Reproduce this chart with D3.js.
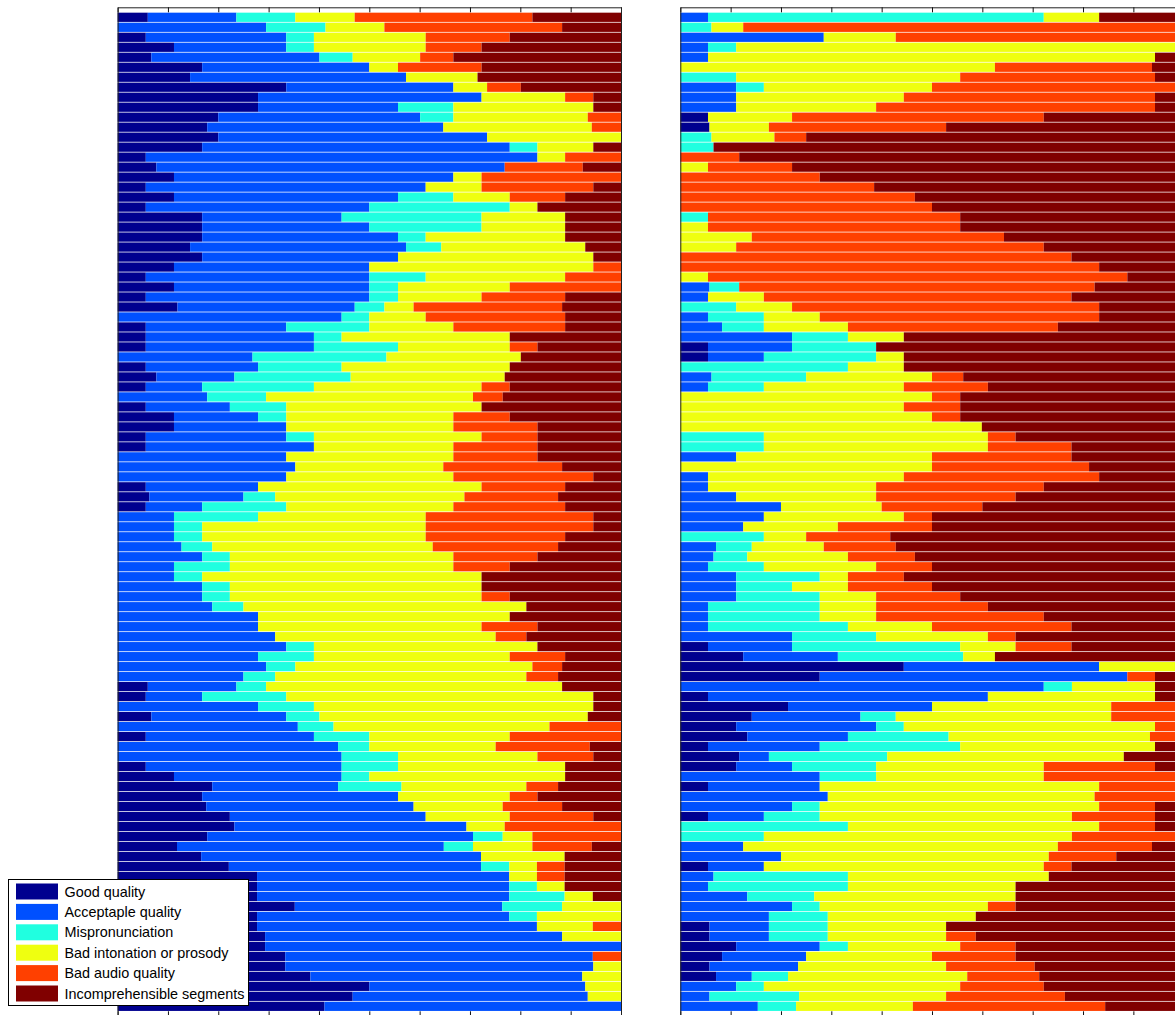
<!DOCTYPE html>
<html>
<head>
<meta charset="utf-8">
<script src="https://cdn.jsdelivr.net/npm/d3@7"></script>
<style>
  html, body { margin: 0; padding: 0; background: #fff; }
  svg { display: block; }
  text { font-family: "Liberation Sans", Arial, Helvetica, sans-serif; }
</style>
</head>
<body>
<svg id="chart" width="1175" height="1015"></svg>
<script>
// ---------------- DATA (percent of ratings per item, top bar first) ----------------
const categories = ["Good quality", "Acceptaple quality", "Mispronunciation",
  "Bad intonation or prosody", "Bad audio quality", "Incomprehensible segments"];
const colors = ["#00008f", "#0050ff", "#20ffe0", "#efff10", "#ff4000", "#800000"];
const xTickValues = [0, 0.1, 0.2, 0.3, 0.4, 0.5, 0.6, 0.7, 0.8, 0.9, 1];

// Left panel
const leftGood = [6.0,0,5.6,11.2,6.7,16.8,14.4,33.5,27.9,27.9, 20.0,17.8,20.0,16.8,5.6,7.7,11.2,5.6,11.2,5.6,
  16.8,16.8,16.8,14.4,16.8,11.2,5.6,11.2,5.6,11.9, 0,5.6,5.6,5.6,0,5.6,7.7,5.6,0,5.6,
  11.2,11.2,5.6,5.6,0,0,0,5.6,6.3,5.6, 0,0,0,0,0,0,0,0,0,0,
  0,0,0,0,0,0,0,6.0,5.6,0, 6.7,0,5.6,0,0,5.6,11.2,18.8,16.8,17.6,
  22.3,23.2,17.8,11.8,16.6,22.1,27.7,27.7,27.7,35.2, 27.7,27.7,29.3,29.3,33.3,33.3,38.3,50.0,46.7,41.1];
const leftAcceptable = [17.6,29.5,27.9,22.3,33.4,33.2,42.9,33.2,44.4,27.8, 40.1,46.9,53.4,61.1,77.8,69.2,55.5,55.6,44.5,44.4,
  27.7,33.2,38.9,42.9,38.9,38.8,44.4,38.8,44.4,35.2, 44.5,27.9,33.4,33.4,26.8,22.3,15.5,11.2,17.8,16.7,
  16.7,22.3,27.9,33.4,33.5,35.3,33.5,22.3,18.7,11.2, 11.2,11.2,11.2,12.7,16.8,11.2,11.2,16.8,16.8,18.8,
  27.9,27.9,31.3,33.5,27.9,29.5,25.0,17.6,11.2,27.9, 26.8,35.8,33.4,43.8,44.5,38.9,33.3,25.0,38.9,41.2,
  38.9,46.1,52.8,53.0,55.6,50.1,50.1,50.1,50.1,41.2, 50.1,55.6,59.0,70.7,61.1,61.2,54.0,42.9,46.7,58.9];
const leftMispron = [11.7,11.8,5.5,5.5,6.6,0,0,0,0,11.0, 6.6,0,0,5.5,0,0,0,0,11.0,27.9,
  27.8,22.3,5.5,7.0,0,0,11.2,5.7,5.7,5.9, 5.5,16.5,5.5,16.7,26.6,16.6,23.1,22.2,11.7,11.2,
  5.6,0,5.5,0,0,0,0,0,6.3,16.7, 16.7,5.6,5.6,6.1,5.5,11.1,5.6,5.5,5.5,6.2,
  0,0,0,5.5,11.1,5.8,6.3,5.9,16.7,11.1, 6.6,7.1,11.0,6.2,11.2,11.2,5.5,12.6,0,0,
  0,0,5.9,5.8,0,5.6,0,5.5,11.0,11.9, 5.5,0,0,0,0,0,0,0,0,0];
const leftIntonation = [11.8,11.7,22.2,22.2,13.4,5.7,14.2,6.7,16.6,27.8, 26.7,29.5,26.6,11.1,5.5,0,5.6,11.1,11.2,5.5,
  16.6,16.6,27.7,28.6,38.8,44.5,27.7,22.2,16.6,5.8, 11.2,16.7,33.4,22.2,26.7,33.4,30.6,33.3,41.1,38.8,
  33.2,33.2,33.3,27.7,33.2,29.4,33.2,44.4,37.6,33.2, 33.3,44.4,44.4,43.8,44.4,44.4,55.5,50.0,50.0,56.2,
  50.0,44.4,43.8,44.4,38.9,47.1,49.9,58.8,61.0,55.5, 53.3,42.9,27.9,25.1,27.7,33.2,38.9,24.8,22.2,17.7,
  16.7,7.6,5.9,11.8,16.6,5.5,5.5,5.5,5.6,11.7, 16.7,11.1,11.7,0,0,5.5,7.7,7.1,6.6,0];
const leftAudio = [35.3,35.3,16.7,11.1,6.6,16.6,0,6.7,5.6,0, 6.6,5.8,0,0,11.1,15.5,27.7,22.2,11.0,0,
  0,0,0,0,0,5.5,11.1,22.1,16.6,29.5, 27.7,22.2,0,5.5,0,0,0,5.6,5.9,0,
  11.2,16.7,11.1,16.7,16.7,23.6,27.8,16.6,18.6,22.2, 33.3,33.3,27.7,24.9,16.7,11.2,0,0,5.6,0,
  0,11.1,6.1,0,11.0,5.9,6.3,0,0,0, 0,14.2,22.1,18.7,11.1,0,0,6.3,5.5,11.8,
  16.6,23.1,17.6,11.8,0,5.5,5.5,0,0,0, 0,5.6,0,0,5.6,0,0,0,0,0];
const leftIncomp = [17.6,11.7,22.1,27.7,33.3,27.7,28.5,19.9,5.5,5.5, 0,0,0,5.5,0,7.6,0,5.5,11.1,16.6,
  11.1,11.1,11.1,7.1,5.5,0,0,0,11.1,11.7, 11.1,11.1,22.1,16.6,19.9,22.1,23.1,22.1,23.5,27.7,
  22.1,16.6,16.6,16.6,16.6,11.7,5.5,11.1,12.5,11.1, 5.5,5.5,11.1,12.5,16.6,22.1,27.7,27.7,22.1,18.8,
  22.1,16.6,18.8,16.6,11.1,11.7,12.5,11.7,5.5,5.5, 6.6,0,0,6.2,5.5,11.1,11.1,12.5,16.6,11.7,
  5.5,0,0,5.8,11.2,11.2,11.2,11.2,5.6,0, 0,0,0,0,0,0,0,0,0,0];

// Right panel
const rightGood = [0,0,0,0,0,0,0,0,0,0, 5.5,5.8,0,0,0,0,0,0,0,0,
  0,0,0,0,0,0,0,0,0,0, 0,0,0,5.5,5.5,0,0,0,0,0,
  0,0,0,0,0,0,0,0,0,0, 0,0,0,0,0,0,0,0,0,0,
  0,0,0,5.5,12.5,44.4,27.7,0,5.5,21.4, 14.2,11.1,13.3,5.5,11.7,11.1,0,5.5,0,0,
  5.5,0,0,0,0,5.5,0,0,0,0, 0,5.8,5.8,11.1,8.3,5.8,7.1,0,0,0];
const rightAcceptable = [5.5,0,28.5,5.5,5.5,0,0,11.1,11.1,11.1, 0,0,0,0,0,0,0,0,0,0,
  0,0,0,0,0,0,0,5.8,5.5,0, 5.5,8.3,22.2,16.7,11.1,0,6.2,5.5,0,0,
  0,0,0,0,11.1,0,5.5,5.5,11.1,20.0, 16.6,12.5,0,7.1,6.6,5.5,11.1,11.1,11.1,5.5,
  5.5,5.5,22.2,16.7,18.8,38.8,61.1,72.2,55.6,28.6, 21.6,27.8,20.0,22.2,5.9,11.1,27.7,22.2,29.3,22.2,
  11.1,0,0,12.5,20.0,11.1,6.6,5.5,13.3,22.2, 17.6,11.8,11.8,16.6,16.7,17.6,7.1,11.1,5.8,15.4];
const rightMispron = [66.7,6.2,0,5.6,0,0,11.1,5.5,0,0, 0,0,6.2,6.6,0,0,0,0,0,0,
  5.5,0,0,0,0,0,0,5.9,0,11.1, 11.1,8.3,11.1,16.7,22.3,33.3,18.8,11.1,0,0,
  0,0,16.6,16.6,0,0,0,0,0,0, 0,0,16.6,7.1,6.7,11.1,16.6,11.1,16.6,22.2,
  22.2,27.8,16.7,33.4,24.9,0,0,5.6,0,0, 7.0,5.5,20.0,27.9,23.5,16.7,11.2,0,0,5.5,
  11.1,33.3,16.6,0,0,0,26.7,27.8,13.3,5.5, 11.7,11.7,11.7,5.6,0,0,7.2,5.5,17.8,7.6];
const rightIntonation = [11.0,6.3,14.3,88.9,88.8,62.5,44.5,33.4,33.3,27.8, 16.7,11.8,12.5,0,0,5.5,0,0,0,0,
  0,5.5,14.2,11.1,0,0,5.5,0,11.1,11.1, 11.1,16.7,11.1,0,5.5,11.1,25.0,27.8,50.0,44.4,
  50.0,59.9,44.5,44.5,38.9,50.0,38.9,33.4,27.8,20.0, 27.8,18.8,8.4,14.3,20.0,22.3,5.6,11.1,11.2,11.2,
  11.2,16.7,22.2,11.0,6.3,16.8,0,16.5,33.2,35.6, 42.8,49.9,40.0,38.7,47.0,33.3,33.3,55.5,53.0,55.5,
  50.1,49.9,61.2,62.5,53.2,55.6,39.9,33.3,40.0,33.4, 29.4,23.5,23.5,22.3,25.0,29.4,35.6,39.0,29.2,23.2];
const rightAudio = [0,87.5,57.2,0,0,31.2,38.7,50.0,49.9,55.4, 50.0,35.2,6.3,0,11.7,16.7,27.7,38.5,46.6,50.0,
  50.1,50.1,50.1,61.1,77.7,83.2,83.3,70.6,61.1,61.0, 55.5,41.7,0,0,0,0,6.2,16.7,5.6,11.2,
  5.6,0,5.5,16.6,27.7,31.2,38.8,33.3,27.7,20.0, 5.6,18.7,16.7,14.3,13.3,11.1,11.1,16.7,16.7,22.2,
  33.3,27.7,5.5,11.1,0,0,5.5,0,0,14.4, 14.4,5.7,6.7,0,0,22.1,27.8,16.8,17.7,11.1,
  16.5,11.1,22.2,18.7,13.4,5.5,0,0,0,5.5, 0,0,5.9,11.0,16.6,17.6,14.3,16.6,23.6,38.2];
const rightIncomp = [16.8,0,0,0,5.7,6.3,5.7,0,5.7,5.7, 27.8,47.2,75.0,93.4,88.3,77.8,72.3,61.5,53.4,50.0,
  44.4,44.4,35.7,27.8,22.3,16.8,11.2,17.7,22.3,16.8, 16.8,25.0,55.6,61.1,55.6,55.6,43.8,38.9,44.4,44.4,
  44.4,40.1,33.4,22.3,22.3,18.8,16.8,27.8,33.4,40.0, 50.0,50.0,58.3,57.2,53.4,50.0,55.6,50.0,44.4,38.9,
  27.8,22.3,33.4,22.3,37.5,0,5.7,5.7,5.7,0, 0,0,0,5.7,11.9,5.7,0,0,0,5.7,
  5.7,5.7,0,6.3,13.4,22.3,26.8,33.4,33.4,33.4, 41.3,47.2,41.3,33.4,33.4,29.6,28.7,27.8,23.6,15.6];

// ---------------- DRAWING ----------------
const svg = d3.select("#chart");
const keys = ["k0", "k1", "k2", "k3", "k4", "k5"];
const plotTop = 7.3, plotBottom = 1016.3;
const panelWidth = 503.4;

function buildRows(series) {
  return d3.range(series[0].length).map(i => {
    const r = { idx: i };
    keys.forEach((k, j) => r[k] = series[j][i]);
    return r;
  });
}

function drawPanel(x0, series) {
  const rows = buildRows(series);
  const stacked = d3.stack().keys(keys).offset(d3.stackOffsetExpand)(rows);
  const x = d3.scaleLinear().domain([0, 1]).range([x0, x0 + panelWidth]);
  const y = d3.scaleLinear().domain([0, rows.length + 1]).range([plotTop, plotBottom]);
  const step = y(1) - y(0);
  const barH = step * 0.925;

  const g = svg.append("g");
  g.selectAll("g.layer")
    .data(stacked)
    .join("g")
    .attr("class", "layer")
    .attr("fill", (d, i) => colors[i])
    .selectAll("rect")
    .data(d => d)
    .join("rect")
    .attr("x", d => x(d[0]))
    .attr("width", d => Math.max(0, x(d[1]) - x(d[0])))
    .attr("y", d => y(d.data.idx + 1) - barH / 2)
    .attr("height", barH);

  // axes box
  const topAxis = d3.axisTop(x).tickValues(xTickValues).tickSize(-5).tickSizeOuter(0).tickFormat("");
  const botAxis = d3.axisBottom(x).tickValues(xTickValues).tickSize(-5).tickSizeOuter(0).tickFormat("");
  const ga = g.append("g").attr("transform", `translate(0,${plotTop})`).call(topAxis);
  const gb = g.append("g").attr("transform", `translate(0,${plotBottom})`).call(botAxis);
  [ga, gb].forEach(a => {
    a.selectAll("path.domain").attr("stroke", "#222").attr("stroke-width", 1);
    a.selectAll(".tick line").attr("stroke", "#111").attr("stroke-width", 1);
  });
  const yAxisL = d3.axisLeft(y).tickValues([]).tickSizeOuter(0);
  const yAxisR = d3.axisRight(y).tickValues([]).tickSizeOuter(0);
  g.append("g").attr("transform", `translate(${x0},0)`).call(yAxisL)
    .selectAll("path.domain").attr("stroke", "#222");
  g.append("g").attr("transform", `translate(${x0 + panelWidth},0)`).call(yAxisR)
    .selectAll("path.domain").attr("stroke", "#222");
}

drawPanel(117.6, [leftGood, leftAcceptable, leftMispron, leftIntonation, leftAudio, leftIncomp]);
drawPanel(680.3, [rightGood, rightAcceptable, rightMispron, rightIntonation, rightAudio, rightIncomp]);

// ---------------- LEGEND ----------------
const legend = svg.append("g").attr("transform", "translate(8.5,879.5)");
legend.append("rect").attr("width", 240).attr("height", 126)
  .attr("fill", "#fff").attr("stroke", "#000").attr("stroke-width", 1);
const ly = d3.scalePoint().domain(categories).range([12, 114]);
const items = legend.selectAll("g.item").data(categories).join("g")
  .attr("class", "item")
  .attr("transform", d => `translate(0,${ly(d)})`);
items.append("rect").attr("x", 7.5).attr("y", -8).attr("width", 42).attr("height", 16)
  .attr("fill", (d, i) => colors[i]);
items.append("text").attr("x", 56).attr("y", 0).attr("dy", "0.35em")
  .attr("font-size", 14.4).attr("fill", "#000").text(d => d);
</script>
</body>
</html>
